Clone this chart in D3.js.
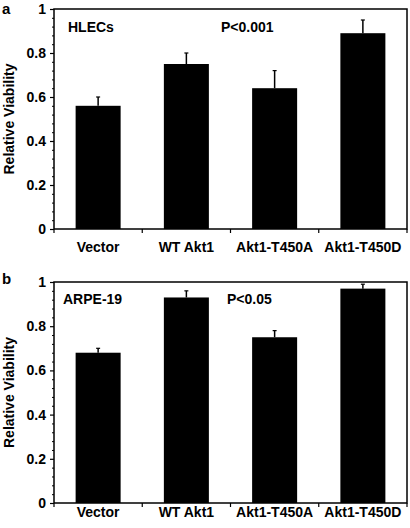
<!DOCTYPE html>
<html>
<head>
<meta charset="utf-8">
<script src="https://cdn.jsdelivr.net/npm/d3@7/dist/d3.min.js"></script>
<style>
  html, body { margin: 0; padding: 0; background: #fff; }
  svg { display: block; }
  text { font-family: "Liberation Sans", Arial, Helvetica, sans-serif; font-weight: bold; fill: #000; }
</style>
</head>
<body>
<svg id="chart" width="410" height="528"></svg>
<script>
// ---- Data ----
const categories = ["Vector", "WT Akt1", "Akt1-T450A", "Akt1-T450D"];
const hlecValues = [0.56, 0.75, 0.64, 0.89];
const hlecErrors = [0.04, 0.05, 0.08, 0.06];
const arpeValues = [0.68, 0.93, 0.75, 0.97];
const arpeErrors = [0.02, 0.03, 0.03, 0.02];
const yTickValues = [0, 0.2, 0.4, 0.6, 0.8, 1];
const yTickLabels = ["0", "0.2", "0.4", "0.6", "0.8", "1"];
const minorTickValues = d3.range(0, 26).map(i => i * 0.04).filter(v => Math.abs(v / 0.2 - Math.round(v / 0.2)) > 1e-6);
const yTitle = "Relative Viability";

const panels = [
  { letter: "a", cell: "HLECs", pval: "P<0.001", values: hlecValues, errors: hlecErrors,
    top: 9, bottom: 229, letterY: 14, cellX: 68, pX: 221, labelY: 31.5, xLabelY: 252 },
  { letter: "b", cell: "ARPE-19", pval: "P<0.05", values: arpeValues, errors: arpeErrors,
    top: 282, bottom: 503, letterY: 284, cellX: 63, pX: 227, labelY: 304, xLabelY: 517 }
];

const left = 54, right = 407;
const svg = d3.select("#chart");

panels.forEach(p => {
  const g = svg.append("g");
  const x = d3.scaleBand().domain(categories).range([left, right]).padding(0);
  const y = d3.scaleLinear().domain([0, 1]).range([p.bottom, p.top]);
  const bw = x.bandwidth();
  const barW = bw * 0.51;

  // bars
  g.selectAll("rect.bar").data(categories).enter().append("rect")
    .attr("x", d => x(d) + (bw - barW) / 2)
    .attr("width", barW)
    .attr("y", (d, i) => y(p.values[i]))
    .attr("height", (d, i) => y(0) - y(p.values[i]))
    .attr("fill", "#000");

  // error bars (upper only)
  categories.forEach((c, i) => {
    const cx = x(c) + bw / 2;
    g.append("line").attr("x1", cx).attr("x2", cx)
      .attr("y1", y(p.values[i])).attr("y2", y(p.values[i] + p.errors[i]))
      .attr("stroke", "#000").attr("stroke-width", 1.5);
    g.append("line").attr("x1", cx - 2).attr("x2", cx + 2)
      .attr("y1", y(p.values[i] + p.errors[i])).attr("y2", y(p.values[i] + p.errors[i]))
      .attr("stroke", "#000").attr("stroke-width", 1.2);
  });

  // frame
  g.append("rect").attr("x", left).attr("y", p.top)
    .attr("width", right - left).attr("height", p.bottom - p.top)
    .attr("fill", "none").attr("stroke", "#000").attr("stroke-width", 1.5);

  // y axis
  const yAxis = d3.axisLeft(y).tickValues(yTickValues)
    .tickFormat((d, i) => yTickLabels[i]).tickSize(4).tickPadding(4);
  const ya = g.append("g").attr("transform", `translate(${left},0)`).call(yAxis);
  ya.select(".domain").remove();
  ya.selectAll("line").attr("stroke", "#000").attr("stroke-width", 1.2);
  ya.selectAll("text").attr("font-size", 14).attr("font-family", null);

  const ym = d3.axisLeft(y).tickValues(minorTickValues).tickFormat("").tickSize(2);
  const yma = g.append("g").attr("transform", `translate(${left},0)`).call(ym);
  yma.select(".domain").remove();
  yma.selectAll("line").attr("stroke", "#000").attr("stroke-width", 1);

  // x axis ticks at band boundaries
  const bounds = categories.map(c => x(c)).concat([right]);
  g.selectAll("line.xt").data(bounds).enter().append("line")
    .attr("x1", d => d).attr("x2", d => d)
    .attr("y1", p.bottom).attr("y2", p.bottom + 4)
    .attr("stroke", "#000").attr("stroke-width", 1.2);

  // x labels
  g.selectAll("text.xl").data(categories).enter().append("text")
    .attr("x", d => x(d) + bw / 2).attr("y", p.xLabelY)
    .attr("text-anchor", "middle").attr("font-size", 14)
    .text(d => d);

  // y title
  g.append("text")
    .attr("transform", `translate(13.5,${(p.top + p.bottom) / 2}) rotate(-90)`)
    .attr("text-anchor", "middle").attr("font-size", 14)
    .text(yTitle);

  // panel letter
  g.append("text").attr("x", 2).attr("y", p.letterY).attr("font-size", 15).text(p.letter);

  // in-plot labels
  g.append("text").attr("x", p.cellX).attr("y", p.labelY).attr("font-size", 14).text(p.cell);
  g.append("text").attr("x", p.pX).attr("y", p.labelY).attr("font-size", 14).text(p.pval);
});
</script>
</body>
</html>
